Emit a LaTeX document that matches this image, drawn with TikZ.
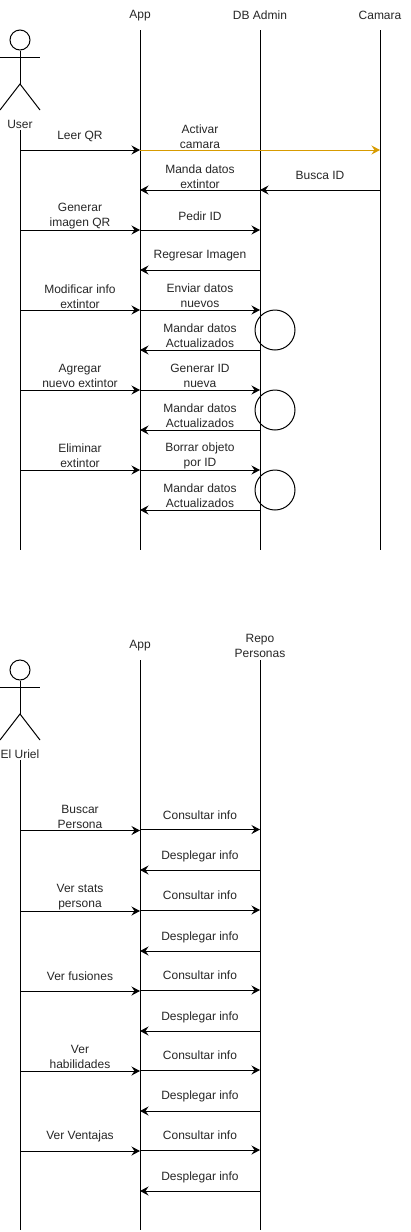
\documentclass[tikz,border=0pt]{standalone}
\usepackage{fontspec}
\setmainfont{Liberation Sans}
\usetikzlibrary{arrows.meta}
\definecolor{amber}{HTML}{D79B00}
\tikzset{
  wire/.style={line width=1pt,draw=black},
  msgline/.style={line width=1pt,-{Stealth[length=8.5pt,width=9pt,inset=3pt]},shorten >=0pt},
  lbl/.style={inner sep=0pt,align=center,font=\fontsize{12}{15}\selectfont,text=black!85,yshift=-1pt},
  anchorpt/.style={coordinate}
}
\newcounter{msgno}
% \msgto[style]{x1}{x2}{arrow y}{label x}{label y}{text}
\newcommand{\msgto}[7][]{%
  \stepcounter{msgno}%
  \node[anchorpt] (s\themsgno) at (#2,#4) {};
  \node[anchorpt] (e\themsgno) at (#3,#4) {};
  \draw[msgline,#1] (s\themsgno) -- (e\themsgno);
  \node[lbl] (t\themsgno) at (#5,#6) {#7};
}
\newcommand{\lifeline}[4]{% name, x, y1, y2
  \node[anchorpt] (#1top) at (#2,#3) {};
  \node[anchorpt] (#1bot) at (#2,#4) {};
  \draw[wire] (#1top) -- (#1bot);
}
\newcommand{\actorfig}[2]{% name, y offset
  \node[draw,circle,line width=1pt,minimum size=20pt,inner sep=0pt] (#1head) at (20,40+#2) {};
  \node[anchorpt] (#1hip) at (20,84+#2) {};
  \node[anchorpt] (#1armL) at (0,57+#2) {};
  \node[anchorpt] (#1armR) at (40,57+#2) {};
  \node[anchorpt] (#1legL) at (0,110+#2) {};
  \node[anchorpt] (#1legR) at (40,110+#2) {};
  \draw[wire] (#1head) -- (#1hip);
  \draw[wire] (#1armL) -- (#1armR);
  \draw[wire] (#1legL) -- (#1hip) -- (#1legR);
}
\begin{document}
\begin{tikzpicture}[x=1pt,y=-1pt]
\useasboundingbox (0,0) rectangle (411,1232);
% --- top diagram
\node[lbl] (appA) at (140,14.5) {App};
\node[lbl] (dbA) at (260,14.5) {DB Admin};
\node[lbl] (camA) at (380,14.5) {Camara};
\actorfig{user}{0}
\node[lbl] (userL) at (20,123.5) {User};
\lifeline{u}{20}{130}{550}
\lifeline{a}{140}{30}{550}
\lifeline{d}{260}{30}{550}
\lifeline{c}{380}{30}{550}
\msgto{20}{140}{150}{80}{135}{Leer QR}
\msgto{260}{140}{190}{200}{175.5}{Manda datos\\extintor}
\msgto{380}{260}{190}{320}{174.5}{Busca ID}
\msgto{20}{140}{230}{80}{215}{Generar\\imagen QR}
\msgto{140}{260}{230}{200}{215}{Pedir ID}
\msgto{260}{140}{270}{200}{254.5}{Regresar Imagen}
\msgto{20}{140}{310}{80}{295.5}{Modificar info\\extintor}
\msgto{140}{260}{310}{200}{294.5}{Enviar datos\\nuevos}
\msgto{260}{140}{350}{200}{334.5}{Mandar datos\\Actualizados}
\msgto{20}{140}{390}{80}{375}{Agregar\\nuevo extintor}
\msgto{140}{260}{390}{200}{374.5}{Generar ID\\nueva}
\msgto{260}{140}{430}{200}{414.5}{Mandar datos\\Actualizados}
\msgto{20}{140}{470}{80}{455}{Eliminar\\extintor}
\msgto{140}{260}{470}{200}{455}{Borrar objeto\\por ID}
\msgto{260}{140}{510}{200}{495}{Mandar datos\\Actualizados}
\msgto[draw=amber]{140}{380}{150}{200}{135.5}{Activar\\camara}
\node[draw,circle,line width=1pt,minimum size=40pt,inner sep=0pt] (c1) at (275,330) {};
\node[draw,circle,line width=1pt,minimum size=40pt,inner sep=0pt] (c2) at (275,410) {};
\node[draw,circle,line width=1pt,minimum size=40pt,inner sep=0pt] (c3) at (275,490) {};
% --- bottom diagram
\node[lbl] (appB) at (140,645) {App};
\node[lbl] (repoB) at (260,645) {Repo\\Personas};
\actorfig{uriel}{630}
\node[lbl] (urielL) at (20,753.5) {El Uriel};
\lifeline{ub}{20}{760}{1230}
\lifeline{ab}{140}{660}{1230}
\lifeline{rb}{260}{660}{1230}
\msgto{20}{140}{830.5}{80}{815.5}{Buscar\\Persona}
\msgto{140}{260}{829.5}{200}{814}{Consultar info}
\msgto{260}{140}{870}{200}{855}{Desplegar info}
\msgto{20}{140}{911}{80}{896}{Ver stats\\persona}
\msgto{140}{260}{910}{200}{894.5}{Consultar info}
\msgto{260}{140}{951}{200}{936}{Desplegar info}
\msgto{20}{140}{991}{80}{975.5}{Ver fusiones}
\msgto{140}{260}{990}{200}{974.5}{Consultar info}
\msgto{260}{140}{1031}{200}{1016}{Desplegar info}
\msgto{20}{140}{1071}{80}{1055.5}{Ver\\habilidades}
\msgto{140}{260}{1070}{200}{1054.5}{Consultar info}
\msgto{260}{140}{1111}{200}{1095.5}{Desplegar info}
\msgto{20}{140}{1151}{80}{1135.5}{Ver Ventajas}
\msgto{140}{260}{1150}{200}{1134.5}{Consultar info}
\msgto{260}{140}{1191}{200}{1176}{Desplegar info}
\end{tikzpicture}
\end{document}
